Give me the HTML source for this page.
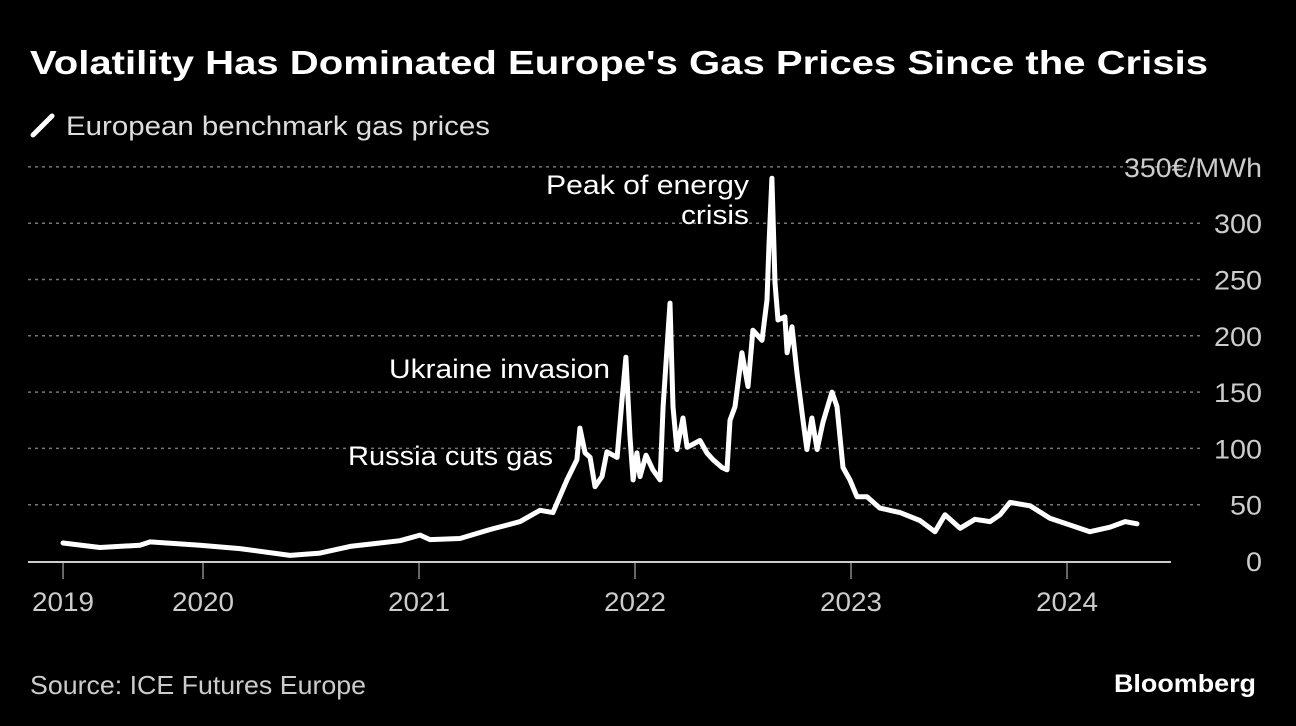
<!DOCTYPE html>
<html><head><meta charset="utf-8"><style>
html,body{margin:0;padding:0;background:#000;}
svg{display:block;font-family:"Liberation Sans",sans-serif;}
</style></head><body>
<svg id="chart" width="1296" height="726" viewBox="0 0 1296 726">
<rect width="1296" height="726" fill="#000"/>
<text x="30" y="74" fill="#fff" font-size="33" font-weight="bold" textLength="1178" lengthAdjust="spacingAndGlyphs">Volatility Has Dominated Europe's Gas Prices Since the Crisis</text>
<line x1="33" y1="135" x2="52" y2="116" stroke="#fff" stroke-width="5" stroke-linecap="round"/>
<text x="66" y="135" fill="#ddd" font-size="27" textLength="424" lengthAdjust="spacingAndGlyphs">European benchmark gas prices</text>
<g id="grid"></g>
<g id="xaxis"></g>
<path id="line" fill="none" stroke="#fff" stroke-width="5" stroke-linejoin="round" stroke-linecap="round"/>
<text x="749" y="194" fill="#fff" font-size="27" text-anchor="end" textLength="203" lengthAdjust="spacingAndGlyphs">Peak of energy</text>
<text x="749" y="224" fill="#fff" font-size="27" text-anchor="end" textLength="68" lengthAdjust="spacingAndGlyphs">crisis</text>
<text x="610" y="378" fill="#fff" font-size="27" text-anchor="end" textLength="221" lengthAdjust="spacingAndGlyphs">Ukraine invasion</text>
<text x="553" y="465" fill="#fff" font-size="27" text-anchor="end" textLength="205" lengthAdjust="spacingAndGlyphs">Russia cuts gas</text>
<text x="30" y="694" fill="#ccc" font-size="26" textLength="336" lengthAdjust="spacingAndGlyphs">Source: ICE Futures Europe</text>
<text x="1256" y="692" fill="#fff" font-size="25" font-weight="bold" text-anchor="end" textLength="142" lengthAdjust="spacingAndGlyphs">Bloomberg</text>
</svg>
<script>
const dates=[2019.352,2019.523,2019.708,2019.755,2019.986,2020.171,2020.403,2020.542,2020.681,2020.819,2020.912,2021.005,2021.051,2021.190,2021.329,2021.468,2021.560,2021.620,2021.685,2021.731,2021.745,2021.769,2021.792,2021.815,2021.847,2021.870,2021.917,2021.940,2021.958,2021.977,2021.991,2022.009,2022.023,2022.051,2022.083,2022.116,2022.130,2022.162,2022.176,2022.194,2022.222,2022.241,2022.301,2022.333,2022.361,2022.403,2022.426,2022.440,2022.463,2022.495,2022.523,2022.546,2022.588,2022.611,2022.620,2022.634,2022.648,2022.662,2022.694,2022.704,2022.727,2022.750,2022.778,2022.796,2022.819,2022.843,2022.870,2022.912,2022.935,2022.963,2022.995,2023.028,2023.074,2023.134,2023.227,2023.319,2023.389,2023.435,2023.505,2023.574,2023.644,2023.690,2023.736,2023.829,2023.921,2024.014,2024.106,2024.199,2024.269,2024.324];
const prices=[16,12,14,17,14,11,5,7,13,16,18,23,19,20,28,35,45,43,72,90,118,96,92,66,75,97,92,143,181,110,72,96,75,94,81,72,137,229,137,99,127,101,107,96,90,83,81,125,137,185,155,205,196,232,279,340,247,214,217,185,208,167,125,99,127,99,123,150,137,83,72,57,57,47,43,36,26,41,29,37,35,41,52,49,38,32,26,30,35,33];
const yTicks=[0,50,100,150,200,250,300,350];
const yTickLabels=['0','50','100','150','200','250','300','350€/MWh'];
const xTicks=[2019.352,2020,2021,2022,2023,2024];
const xTickLabels=['2019','2020','2021','2022','2023','2024'];
const NS='http://www.w3.org/2000/svg';
const X=d=>203+(d-2020)*216;
const Y=v=>561-v*1.126;
const grid=document.getElementById('grid');
yTicks.forEach((t,i)=>{
  if(t>0){
    const l=document.createElementNS(NS,'line');
    
    
    l.setAttribute('x1',28);l.setAttribute('x2',1200);
    l.setAttribute('y1',Y(t));l.setAttribute('y2',Y(t));
    l.setAttribute('stroke','#777');l.setAttribute('stroke-width','1.5');l.setAttribute('stroke-dasharray','3,4');
    grid.appendChild(l);
  }
  const tx=document.createElementNS(NS,'text');
  
  
  tx.setAttribute('x',1262);tx.setAttribute('y',Y(t)+10);
  tx.setAttribute('fill','#ccc');tx.setAttribute('font-size','27');tx.setAttribute('text-anchor','end');
  tx.setAttribute('textLength',yTickLabels[i].length>3?138:yTickLabels[i].length*16);
  tx.setAttribute('lengthAdjust','spacingAndGlyphs');
  tx.textContent=yTickLabels[i];
  grid.appendChild(tx);
});
const xa=document.getElementById('xaxis');
const base=document.createElementNS(NS,'line');


base.setAttribute('x1',28);base.setAttribute('x2',1171);base.setAttribute('y1',562);base.setAttribute('y2',562);
base.setAttribute('stroke','#ccc');base.setAttribute('stroke-width','2');
xa.appendChild(base);
xTicks.forEach((t,i)=>{
  const l=document.createElementNS(NS,'line');
  
  
  l.setAttribute('x1',X(t));l.setAttribute('x2',X(t));l.setAttribute('y1',562);l.setAttribute('y2',579);
  l.setAttribute('stroke','#ccc');l.setAttribute('stroke-width','1');
  xa.appendChild(l);
  const tx=document.createElementNS(NS,'text');
  
  
  tx.setAttribute('x',X(t));tx.setAttribute('y',611);
  tx.setAttribute('fill','#ccc');tx.setAttribute('font-size','27');tx.setAttribute('text-anchor','middle');
  tx.setAttribute('textLength','62');tx.setAttribute('lengthAdjust','spacingAndGlyphs');
  tx.textContent=xTickLabels[i];
  xa.appendChild(tx);
});
let d='';
dates.forEach((dt,i)=>{d+=(i?'L':'M')+X(dt).toFixed(1)+','+Y(prices[i]).toFixed(1);});
document.getElementById('line').setAttribute('d',d);
</script>
</body></html>
